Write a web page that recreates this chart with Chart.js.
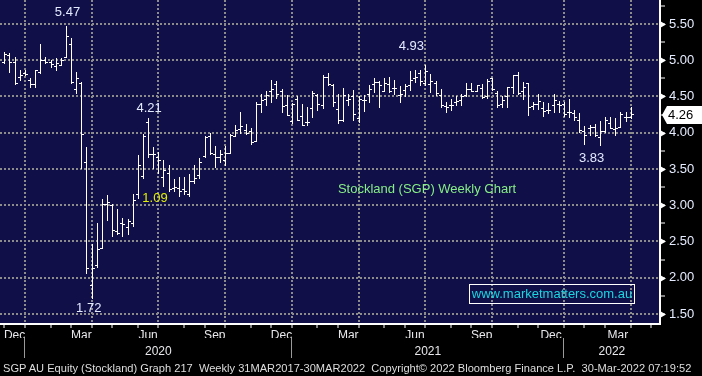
<!DOCTYPE html>
<html>
<head>
<meta charset="utf-8">
<script src="https://cdn.jsdelivr.net/npm/chart.js@4.4.1/dist/chart.umd.min.js"></script>
<style>
  body { margin:0; background:#000; width:702px; height:376px; overflow:hidden; }
  #wrap { position:absolute; left:0; top:0; width:702px; height:362px; }
  #footer { position:absolute; left:3px; top:361px; font:11.1px "Liberation Sans", sans-serif; line-height:14px; color:#dedede; white-space:pre; }
</style>
</head>
<body>
<div id="wrap"><canvas id="chartSgp"></canvas></div>
<div id="footer">SGP AU Equity (Stockland) Graph 217  Weekly 31MAR2017-30MAR2022  Copyright© 2022 Bloomberg Finance L.P.  30-Mar-2022 07:19:52</div>
<script>
// weekly bars, first one = first week of Dec 2019
var opens  = [4.97,5.07,4.97,4.77,4.82,4.73,4.67,4.84,5.01,4.97,4.92,4.93,5.05,5.23,4.61,4.68,3.59,1.90,2.17,2.41,
              3.02,3.00,2.64,2.76,2.70,2.75,3.16,3.40,4.15,3.71,3.66,3.39,3.45,3.24,3.24,3.22,3.16,3.34,3.42,3.68,
              3.96,3.70,3.66,3.63,3.72,3.96,4.05,4.04,4.02,3.89,4.39,4.46,4.58,4.67,4.57,4.38,4.16,4.47,4.23,4.15,
              4.34,4.52,4.38,4.77,4.66,4.33,4.17,4.45,4.50,4.20,4.45,4.53,4.67,4.70,4.58,4.67,4.62,4.52,4.59,4.66,
              4.75,4.83,4.68,4.67,4.68,4.52,4.37,4.38,4.43,4.45,4.52,4.60,4.58,4.62,4.50,4.75,4.55,4.40,4.51,4.63,
              4.79,4.58,4.68,4.37,4.40,4.34,4.32,4.38,4.40,4.40,4.28,4.27,4.17,4.02,4.06,4.08,3.94,4.02,4.14,4.05,
              4.08,4.22,4.22];
var highs  = [5.12,5.10,5.04,4.87,4.86,4.76,4.87,5.23,5.05,5.00,5.03,5.03,5.47,5.30,4.84,4.70,3.81,2.47,2.76,3.09,
              3.14,3.02,2.95,2.83,2.81,3.16,3.69,3.98,4.21,3.80,3.73,3.63,3.56,3.36,3.39,3.39,3.43,3.56,3.65,3.96,
              4.00,3.82,3.76,3.82,3.98,4.11,4.28,4.12,4.06,4.42,4.53,4.58,4.73,4.71,4.60,4.52,4.41,4.50,4.39,4.36,
              4.58,4.53,4.79,4.82,4.67,4.53,4.62,4.53,4.59,4.50,4.52,4.66,4.76,4.71,4.76,4.77,4.73,4.64,4.67,4.85,
              4.87,4.87,4.93,4.81,4.72,4.61,4.43,4.47,4.50,4.53,4.68,4.68,4.66,4.67,4.74,4.76,4.57,4.50,4.63,4.80,
              4.84,4.70,4.69,4.43,4.53,4.43,4.41,4.53,4.44,4.43,4.46,4.31,4.27,4.09,4.10,4.12,4.16,4.22,4.22,4.20,
              4.28,4.28,4.35];
var lows   = [4.96,4.84,4.67,4.73,4.79,4.63,4.63,4.82,4.96,4.91,4.87,4.93,5.04,4.68,4.55,3.52,2.07,1.72,2.15,2.41,
              2.80,2.58,2.61,2.57,2.61,2.71,3.10,3.38,3.67,3.51,3.44,3.26,3.20,3.20,3.13,3.16,3.13,3.30,3.38,3.67,
              3.71,3.53,3.60,3.55,3.72,3.96,4.00,3.98,3.85,3.89,4.29,4.38,4.43,4.48,4.29,4.24,4.13,4.18,4.10,4.10,
              4.22,4.31,4.34,4.66,4.37,4.13,4.16,4.38,4.18,4.15,4.30,4.43,4.56,4.36,4.57,4.56,4.54,4.43,4.50,4.59,
              4.70,4.66,4.66,4.56,4.52,4.36,4.29,4.31,4.38,4.38,4.51,4.57,4.57,4.48,4.48,4.59,4.35,4.36,4.36,4.55,
              4.54,4.47,4.24,4.33,4.33,4.23,4.27,4.28,4.29,4.23,4.22,4.17,4.01,3.85,3.97,3.95,3.83,4.01,4.06,3.97,
              4.08,4.16,4.20];
var closes = [5.09,4.97,4.68,4.80,4.81,4.67,4.86,5.00,4.98,4.95,4.96,5.01,5.33,4.70,4.75,3.98,2.13,2.13,2.39,3.02,
              3.04,2.66,2.62,2.74,2.78,3.07,3.56,3.95,3.71,3.71,3.62,3.49,3.22,3.25,3.20,3.19,3.34,3.38,3.60,3.94,
              3.72,3.67,3.70,3.72,3.97,4.04,4.09,4.00,3.87,4.39,4.45,4.52,4.61,4.53,4.37,4.25,4.39,4.18,4.11,4.15,
              4.55,4.39,4.77,4.67,4.42,4.18,4.52,4.47,4.26,4.47,4.45,4.60,4.70,4.66,4.68,4.58,4.62,4.54,4.64,4.73,
              4.77,4.71,4.85,4.71,4.55,4.38,4.36,4.38,4.44,4.50,4.61,4.58,4.66,4.49,4.72,4.60,4.38,4.45,4.63,4.79,
              4.55,4.63,4.35,4.40,4.44,4.30,4.32,4.45,4.38,4.26,4.28,4.22,4.04,3.97,4.08,3.97,4.02,4.17,4.06,4.07,
              4.26,4.22,4.26];

var priceTicks = [1.50,1.75,2.00,2.25,2.50,2.75,3.00,3.25,3.50,3.75,4.00,4.25,4.50,4.75,5.00,5.25,5.50,5.75];
var monthStarts = [0,4,9,13,17,21,26,30,35,39,43,48,52,56,61,65,69,74,78,82,87,91,95,100,104,109,113,117,122,126];
var monthNames = ['Dec','Jan','Feb','Mar','Apr','May','Jun','Jul','Aug','Sep','Oct','Nov',
                  'Dec','Jan','Feb','Mar','Apr','May','Jun','Jul','Aug','Sep','Oct','Nov',
                  'Dec','Jan','Feb','Mar','Apr','May'];
var yearStarts = [4, 56, 109];
var yearNames = ['2020','2021','2022'];

// text notes on the chart: [text, bar index, price, colour]
var notes = [
  ['5.47', 12.3, 5.666, '#e4eaff'],
  ['4.21', 28.2, 4.34, '#e4eaff'],
  ['1.09', 29.35, 3.10, '#e2f000'],
  ['1.72', 16.44, 1.583, '#e4eaff'],
  ['4.93', 79.3, 5.197, '#e4eaff'],
  ['3.83', 114.4, 3.652, '#e4eaff']
];

var xMin = -0.84, xMax = 127.72;
var yMin = 1.362, yMax = 5.831;

var quarterLines = [];
var labelPos = [], labelTxt = [];
for (let k = 0; k < monthStarts.length; k++) {
  const m = monthNames[k];
  if (m == 'Jan' || m == 'Apr' || m == 'Jul' || m == 'Oct') quarterLines.push(monthStarts[k]);
  if ((m == 'Dec' || m == 'Mar' || m == 'Jun' || m == 'Sep') && k + 1 < monthStarts.length) {
    labelPos.push((monthStarts[k] + monthStarts[k + 1]) / 2);
    labelTxt.push(m);
  }
}
var yearTicks = [], yearTxt = [];
for (let k = 0; k < yearStarts.length; k++) {
  yearTicks.push(yearStarts[k]); yearTxt.push('');
  const end = k + 1 < yearStarts.length ? yearStarts[k + 1] : xMax;
  yearTicks.push((yearStarts[k] + end) / 2); yearTxt.push(yearNames[k]);
}

var dotGray = '#8c8c8c';
var none = 'rgba(0,0,0,0)';
var font = 'Liberation Sans';

function isMajor(v) { return Math.abs(v * 2 - Math.round(v * 2)) < 1e-6; }

var backPlugin = {
  id: 'back',
  beforeDraw: function(chart) {
    var a = chart.chartArea, c = chart.ctx;
    c.save();
    c.fillStyle = '#000';
    c.fillRect(0, 0, chart.width, chart.height);
    c.fillStyle = '#100f48';
    c.fillRect(a.left, a.top, a.right - a.left, a.bottom - a.top);
    c.restore();
  }
};

var ohlcPlugin = {
  id: 'ohlc',
  afterDatasetsDraw: function(chart) {
    var x = chart.scales.x, y = chart.scales.y, c = chart.ctx, a = chart.chartArea;
    c.save();
    c.beginPath();
    c.rect(a.left, a.top, a.right - a.left, a.bottom - a.top);
    c.clip();
    c.fillStyle = '#ffffff';
    for (let i = 0; i < closes.length; i++) {
      const px = Math.round(x.getPixelForValue(i));
      const hy = Math.round(y.getPixelForValue(highs[i]));
      const ly = Math.round(y.getPixelForValue(lows[i]));
      const oy = Math.round(y.getPixelForValue(opens[i]));
      const cy = Math.round(y.getPixelForValue(closes[i]));
      c.fillRect(px, hy, 1, ly - hy + 1);
      c.fillRect(px - 2, oy, 2, 1);
      c.fillRect(px + 1, cy, 2, 1);
    }
    c.restore();
  }
};

var extrasPlugin = {
  id: 'extras',
  afterDraw: function(chart) {
    var x = chart.scales.x, y = chart.scales.y, c = chart.ctx, a = chart.chartArea;
    c.save();
    // arrows on the price axis
    c.fillStyle = '#ffffff';
    priceTicks.forEach(function(v) {
      if (!isMajor(v)) return;
      const py = Math.round(y.getPixelForValue(v)) + 0.5;
      c.beginPath();
      c.moveTo(a.right, py - 3.5);
      c.lineTo(a.right + 6, py);
      c.lineTo(a.right, py + 3.5);
      c.closePath();
      c.fill();
    });
    c.textAlign = 'center';
    c.textBaseline = 'middle';
    c.font = '13px "' + font + '"';
    notes.forEach(function(n) {
      c.fillStyle = n[3];
      c.fillText(n[0], x.getPixelForValue(n[1]), y.getPixelForValue(n[2]));
    });
    c.fillStyle = '#86ee86';
    c.fillText('Stockland (SGP) Weekly Chart', a.left + 427, a.top + 189);
    // site box
    c.strokeStyle = '#ffffff';
    c.lineWidth = 1;
    c.strokeRect(a.left + 469.5, a.top + 284.5, 165, 19);
    c.fillStyle = '#1ad6e0';
    c.fillText('www.marketmatters.com.au', a.left + 552, a.top + 294.5);
    // last price tag
    const last = closes[closes.length - 1];
    const ty = Math.round(y.getPixelForValue(last)) + 1;
    c.fillStyle = '#ffffff';
    c.beginPath();
    c.moveTo(a.right + 2, ty);
    c.lineTo(a.right + 7, ty - 9);
    c.lineTo(chart.width, ty - 9);
    c.lineTo(chart.width, ty + 9);
    c.lineTo(a.right + 7, ty + 9);
    c.closePath();
    c.fill();
    c.fillStyle = '#000000';
    c.textAlign = 'left';
    c.fillText(last.toFixed(2), a.right + 8, ty + 0.5);
    c.restore();
  }
};

var ctx = document.getElementById('chartSgp').getContext('2d');
var chart = new Chart(ctx, {
  type: 'bar',
  data: { datasets: [] },
  options: {
    responsive: true,
    maintainAspectRatio: false,
    animation: false,
    layout: { padding: 0 },
    plugins: { legend: { display: false }, tooltip: { enabled: false } },
    scales: {
      x: {
        type: 'linear', position: 'bottom', min: xMin, max: xMax, bounds: 'data', offset: false,
        afterBuildTicks: function(s) { s.ticks = monthStarts.map(function(v) { return { value: v }; }); },
        afterFit: function(s) { s.height = 4; s.paddingLeft = 0; s.paddingRight = 0; },
        ticks: { display: false },
        grid: {
          offset: false, z: 0, color: dotGray,
          lineWidth: function(c) { return c.tick && quarterLines.indexOf(c.tick.value) >= 0 ? 2 : 0; },
          tickColor: '#ffffff', tickLength: 4, tickWidth: 1
        },
        border: { color: '#ffffff', width: 2, dash: [2, 2] }
      },
      xm: {
        type: 'linear', position: 'bottom', min: xMin, max: xMax, bounds: 'data', offset: false,
        afterBuildTicks: function(s) { s.ticks = labelPos.map(function(v) { return { value: v }; }); },
        afterFit: function(s) { s.height = 10; s.paddingLeft = 0; s.paddingRight = 0; },
        grid: { display: false, drawTicks: false, offset: false },
        border: { display: false },
        ticks: {
          autoSkip: false, maxRotation: 0, padding: 0, color: '#e8e8ec',
          font: { family: font, size: 12 },
          callback: function(v, i) { return labelTxt[i]; }
        }
      },
      xy: {
        type: 'linear', position: 'bottom', min: xMin, max: xMax, bounds: 'data', offset: false,
        afterBuildTicks: function(s) { s.ticks = yearTicks.map(function(v) { return { value: v }; }); },
        afterFit: function(s) { s.height = 24; s.paddingLeft = 0; s.paddingRight = 0; },
        grid: {
          display: true, offset: false, drawOnChartArea: false, drawTicks: true, tickLength: 20, tickWidth: 1, color: none,
          tickColor: function(c) { return c.tick && yearStarts.indexOf(c.tick.value) >= 0 ? '#9a9a9a' : none; }
        },
        border: { display: false },
        ticks: {
          autoSkip: false, maxRotation: 0, padding: -14, color: '#e8e8ec',
          font: { family: font, size: 12 },
          callback: function(v, i) { return yearTxt[i]; }
        }
      },
      y: {
        type: 'linear', position: 'right', min: yMin, max: yMax, bounds: 'data',
        afterBuildTicks: function(s) { s.ticks = priceTicks.map(function(v) { return { value: v }; }); },
        afterFit: function(s) { s.width = 42; s.paddingTop = 0; s.paddingBottom = 0; },
        ticks: {
          autoSkip: false, color: '#e6ecff', padding: 4, font: { family: font, size: 13 },
          callback: function(v) { return isMajor(v) ? v.toFixed(2) : ''; }
        },
        grid: {
          z: 0, color: dotGray,
          lineWidth: function(c) { return c.tick && isMajor(c.tick.value) ? 2 : 0; },
          tickColor: '#ffffff', tickLength: 5, tickWidth: 1
        },
        border: { color: '#ffffff', width: 2, dash: [2, 2] }
      }
    }
  },
  plugins: [backPlugin, ohlcPlugin, extrasPlugin]
});
</script>
</body>
</html>
